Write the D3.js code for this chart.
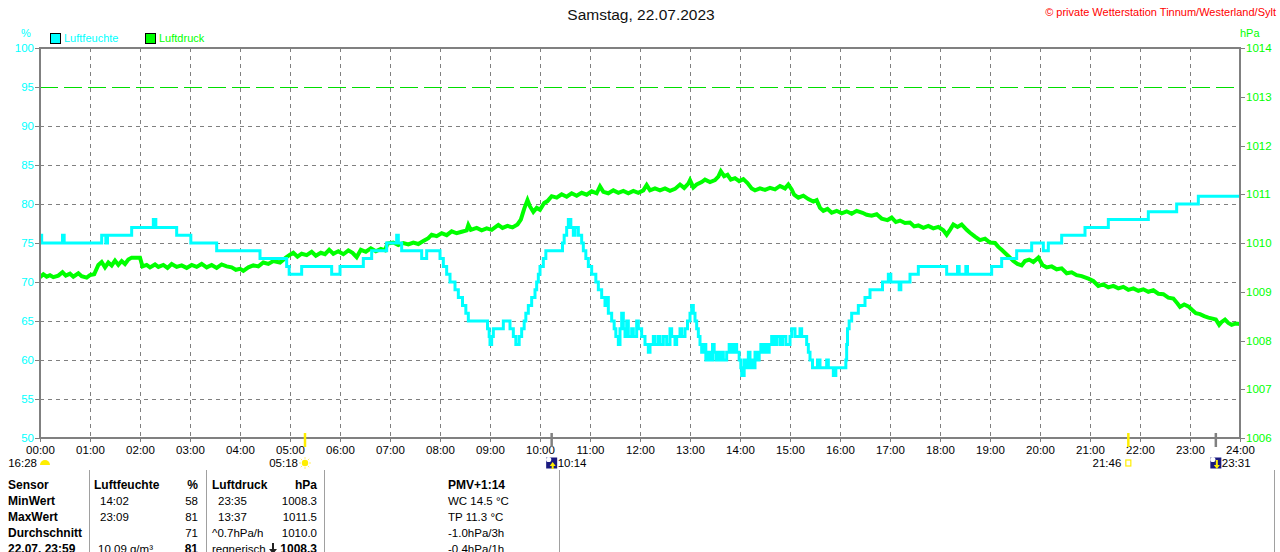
<!DOCTYPE html>
<html>
<head>
<meta charset="utf-8">
<script src="https://cdn.jsdelivr.net/npm/d3@7"></script>
<style>
  body { margin: 0; background: #fff; }
  svg { display: block; font-family: "Liberation Sans", Arial, sans-serif; }
</style>
</head>
<body>
<svg id="chart" width="1280" height="552"></svg>
<script>
// ---- data ----
const hours = d3.range(0, 25);
const humTicks = d3.range(50, 101, 5);
const presTicks = d3.range(1006, 1015);
const limitHum = 95;

// relative humidity in %, value holds until the next entry
const humidity = [
  ["00:00",76],["00:02",75],["00:27",76],["00:29",75],["01:14",76],["01:19",75],["01:21",76],
  ["01:50",77],["02:16",78],["02:19",77],["02:44",76],["03:01",75],["03:32",74],["04:24",73],
  ["04:56",72],["04:59",71],["05:14",72],["05:50",71],["06:00",72],["06:28",73],["06:38",74],
  ["06:56",75],["07:08",76],["07:10",75],["07:14",74],["07:38",73],["07:44",74],["08:00",73],
  ["08:04",72],["08:08",71],["08:12",70],["08:18",69],["08:22",68],["08:27",67],["08:31",66],
  ["08:34",65],["08:57",64],["08:59",63],["09:00",62],["09:02",63],["09:04",64],["09:16",65],
  ["09:24",64],["09:28",63],["09:31",62],["09:35",63],["09:38",64],["09:41",65],["09:43",66],
  ["09:46",67],["09:50",68],["09:54",69],["09:56",70],["09:58",71],["10:00",72],["10:04",73],
  ["10:07",74],["10:27",75],["10:29",76],["10:32",77],["10:34",78],["10:37",77],["10:40",76],
  ["10:42",77],["10:46",76],["10:50",75],["10:52",74],["10:55",73],["10:58",72],["11:02",71],
  ["11:07",70],["11:10",69],["11:14",68],["11:18",67],["11:20",68],["11:22",66],["11:26",65],
  ["11:29",64],["11:31",63],["11:34",62],["11:36",64],["11:38",66],["11:40",64],["11:42",63],
  ["11:44",65],["11:46",63],["11:50",64],["11:52",63],["11:56",65],["11:58",64],["12:02",63],
  ["12:06",62],["12:10",61],["12:12",62],["12:16",63],["12:18",62],["12:22",63],["12:24",62],
  ["12:28",63],["12:32",62],["12:36",64],["12:38",63],["12:42",62],["12:44",63],["12:48",64],
  ["12:50",63],["12:54",64],["12:57",65],["13:00",66],["13:02",67],["13:04",66],["13:06",65],
  ["13:08",64],["13:10",63],["13:12",62],["13:14",61],["13:17",62],["13:19",60],["13:22",61],
  ["13:25",60],["13:27",62],["13:29",61],["13:31",60],["13:33",61],["13:35",60],["13:38",61],
  ["13:40",60],["13:44",61],["13:47",62],["13:50",61],["13:53",62],["13:56",61],["13:59",60],
  ["14:01",59],["14:02",58],["14:05",60],["14:07",59],["14:10",61],["14:12",59],["14:14",60],
  ["14:16",59],["14:18",61],["14:20",60],["14:23",61],["14:25",62],["14:27",61],["14:30",62],
  ["14:33",61],["14:35",62],["14:38",63],["14:41",62],["14:44",63],["14:48",62],["14:51",63],
  ["14:55",62],["15:00",63],["15:02",64],["15:06",63],["15:12",64],["15:14",63],["15:20",62],
  ["15:22",61],["15:24",60],["15:27",59],["15:33",60],["15:36",59],["15:44",60],["15:46",59],
  ["15:52",58],["15:55",59],["16:07",60],["16:08",62],["16:09",64],["16:11",65],["16:14",66],
  ["16:22",67],["16:30",68],["16:36",69],["16:51",70],["16:58",71],["17:01",70],["17:11",69],
  ["17:13",70],["17:24",71],["17:34",72],["18:08",71],["18:21",72],["18:23",71],["18:31",72],
  ["18:33",71],["19:02",72],["19:14",73],["19:32",74],["19:50",75],["20:04",74],["20:10",75],
  ["20:26",76],["20:54",77],["21:22",78],["22:10",79],["22:44",80],["23:10",81],["24:00",81]
];

// air pressure in hPa
const pressure = [
  ["00:00",1009.30],["00:04",1009.36],["00:08",1009.31],["00:12",1009.34],["00:16",1009.30],
  ["00:22",1009.33],["00:27",1009.40],["00:31",1009.33],["00:36",1009.37],["00:40",1009.31],
  ["00:46",1009.38],["00:50",1009.32],["00:56",1009.29],["01:00",1009.34],["01:05",1009.36],
  ["01:10",1009.55],["01:14",1009.61],["01:18",1009.50],["01:22",1009.60],["01:26",1009.54],
  ["01:30",1009.64],["01:34",1009.55],["01:38",1009.63],["01:42",1009.57],["01:46",1009.66],
  ["01:50",1009.70],["02:00",1009.70],["02:03",1009.52],["02:08",1009.55],["02:12",1009.50],
  ["02:18",1009.56],["02:22",1009.51],["02:28",1009.55],["02:33",1009.49],["02:38",1009.57],
  ["02:44",1009.51],["02:50",1009.54],["02:56",1009.49],["03:02",1009.55],["03:08",1009.51],
  ["03:14",1009.57],["03:20",1009.50],["03:26",1009.55],["03:32",1009.49],["03:38",1009.56],
  ["03:44",1009.52],["03:50",1009.50],["03:55",1009.45],["04:00",1009.47],["04:04",1009.43],
  ["04:10",1009.50],["04:16",1009.54],["04:22",1009.52],["04:28",1009.60],["04:34",1009.57],
  ["04:40",1009.63],["04:48",1009.60],["04:55",1009.70],["05:00",1009.76],["05:04",1009.80],
  ["05:09",1009.72],["05:14",1009.78],["05:20",1009.75],["05:26",1009.82],["05:31",1009.74],
  ["05:37",1009.80],["05:42",1009.77],["05:47",1009.86],["05:52",1009.78],["05:58",1009.83],
  ["06:04",1009.77],["06:10",1009.85],["06:15",1009.80],["06:20",1009.71],["06:25",1009.86],
  ["06:31",1009.82],["06:37",1009.89],["06:43",1009.83],["06:49",1009.88],["06:54",1009.85],
  ["06:57",1009.99],["07:04",1010.01],["07:10",1009.96],["07:16",1010.00],["07:22",1009.97],
  ["07:28",1010.01],["07:34",1009.98],["07:40",1010.04],["07:46",1010.10],["07:50",1010.17],
  ["07:56",1010.14],["08:02",1010.20],["08:08",1010.16],["08:14",1010.24],["08:20",1010.20],
  ["08:26",1010.23],["08:32",1010.26],["08:34",1010.37],["08:37",1010.27],["08:44",1010.31],
  ["08:50",1010.26],["08:56",1010.30],["09:02",1010.27],["09:10",1010.37],["09:15",1010.31],
  ["09:21",1010.35],["09:27",1010.32],["09:33",1010.38],["09:37",1010.48],["09:41",1010.70],
  ["09:45",1010.88],["09:48",1010.75],["09:52",1010.64],["09:56",1010.72],["10:00",1010.68],
  ["10:05",1010.82],["10:09",1010.86],["10:14",1010.96],["10:20",1010.93],["10:26",1011.00],
  ["10:32",1010.95],["10:38",1011.02],["10:44",1010.97],["10:50",1011.03],["10:56",1010.99],
  ["11:02",1011.06],["11:08",1011.02],["11:12",1011.16],["11:16",1011.05],["11:22",1011.02],
  ["11:28",1011.08],["11:34",1011.03],["11:40",1011.07],["11:46",1011.02],["11:52",1011.07],
  ["11:58",1011.03],["12:04",1011.08],["12:08",1011.19],["12:12",1011.08],["12:18",1011.12],
  ["12:24",1011.08],["12:30",1011.12],["12:36",1011.07],["12:42",1011.11],["12:48",1011.20],
  ["12:53",1011.13],["12:58",1011.22],["13:00",1011.29],["13:04",1011.14],["13:08",1011.20],
  ["13:14",1011.25],["13:18",1011.30],["13:24",1011.25],["13:30",1011.29],["13:34",1011.36],
  ["13:37",1011.47],["13:41",1011.37],["13:45",1011.40],["13:49",1011.30],["13:54",1011.33],
  ["13:59",1011.27],["14:04",1011.31],["14:09",1011.23],["14:14",1011.12],["14:18",1011.08],
  ["14:24",1011.12],["14:30",1011.09],["14:36",1011.13],["14:42",1011.10],["14:48",1011.17],
  ["14:54",1011.12],["14:58",1011.20],["15:02",1011.10],["15:05",1010.99],["15:10",1010.93],
  ["15:16",1010.97],["15:22",1010.90],["15:28",1010.85],["15:32",1010.88],["15:36",1010.72],
  ["15:40",1010.66],["15:45",1010.70],["15:50",1010.62],["15:56",1010.66],["16:02",1010.61],
  ["16:08",1010.65],["16:14",1010.60],["16:20",1010.66],["16:27",1010.62],["16:32",1010.58],
  ["16:38",1010.56],["16:44",1010.59],["16:50",1010.50],["16:57",1010.47],["17:02",1010.52],
  ["17:07",1010.43],["17:12",1010.46],["17:18",1010.41],["17:24",1010.42],["17:29",1010.34],
  ["17:34",1010.36],["17:40",1010.31],["17:46",1010.35],["17:52",1010.30],["17:58",1010.33],
  ["18:04",1010.26],["18:08",1010.17],["18:12",1010.27],["18:16",1010.38],["18:21",1010.33],
  ["18:26",1010.38],["18:32",1010.27],["18:36",1010.21],["18:42",1010.13],["18:48",1010.06],
  ["18:54",1010.09],["19:00",1010.01],["19:06",1010.00],["19:10",1009.92],["19:14",1009.86],
  ["19:19",1009.78],["19:24",1009.70],["19:28",1009.63],["19:33",1009.57],["19:38",1009.54],
  ["19:42",1009.63],["19:47",1009.66],["19:52",1009.61],["19:58",1009.70],["20:03",1009.55],
  ["20:08",1009.50],["20:14",1009.52],["20:20",1009.46],["20:26",1009.48],["20:32",1009.38],
  ["20:38",1009.40],["20:44",1009.34],["20:50",1009.32],["20:58",1009.27],["21:04",1009.22],
  ["21:10",1009.12],["21:16",1009.15],["21:22",1009.09],["21:28",1009.12],["21:34",1009.07],
  ["21:40",1009.10],["21:46",1009.04],["21:52",1009.07],["21:58",1009.02],["22:04",1009.05],
  ["22:10",1009.00],["22:16",1009.03],["22:22",1008.96],["22:28",1008.95],["22:34",1008.88],
  ["22:40",1008.86],["22:45",1008.76],["22:48",1008.69],["22:53",1008.74],["22:58",1008.70],
  ["23:03",1008.62],["23:07",1008.56],["23:12",1008.54],["23:17",1008.50],["23:22",1008.47],
  ["23:27",1008.45],["23:31",1008.43],["23:35",1008.32],["23:38",1008.38],["23:42",1008.43],
  ["23:46",1008.36],["23:50",1008.32],["23:55",1008.35],["24:00",1008.34]
];

// sun and moon events under the time axis
const events = [
  {time: "05:18", kind: "sunrise"},
  {time: "10:14", kind: "moonrise"},
  {time: "21:46", kind: "sunset"},
  {time: "23:31", kind: "moonset"}
];
const previousEvent = "16:28";

// summary table
const rowLabels = ["Sensor", "MinWert", "MaxWert", "Durchschnitt", "22.07.  23:59"];
const humColumn = [["Luftfeuchte", "%"], ["14:02", "58"], ["23:09", "81"], ["", "71"], ["10.09 g/m³", "81"]];
const presColumn = [["Luftdruck", "hPa"], ["23:35", "1008.3"], ["13:37", "1011.5"], ["^0.7hPa/h", "1010.0"], ["regnerisch", "1008.3"]];
const extraColumn = ["PMV+1:14", "WC 14.5 °C", "TP 11.3 °C", "-1.0hPa/3h", "-0.4hPa/1h"];

const title = "Samstag, 22.07.2023";
const credit = "© private Wetterstation Tinnum/Westerland/Sylt";

// ---- drawing ----
const parseTime = s => { const [h, m] = s.split(":").map(Number); return h + m / 60; };

const margin = {top: 48, right: 40, bottom: 114, left: 40};
const W = 1280, H = 552;
const width = W - margin.left - margin.right;
const height = H - margin.top - margin.bottom;

const cyan = "#00ffff", green = "#00ff00", grid = "#808080";

const svg = d3.select("#chart");
const chart = svg.append("g").attr("transform", `translate(${margin.left},${margin.top})`);

const x = d3.scaleLinear().domain([0, 24]).range([0, width]);
const yHum = d3.scaleLinear().domain([50, 100]).range([height, 0]);
const yPres = d3.scaleLinear().domain([1006, 1014]).range([height, 0]);

// grid
chart.append("g").attr("shape-rendering", "crispEdges").selectAll("line")
  .data(hours.filter(h => h > 0 && h < 24))
  .join("line")
  .attr("x1", d => x(d)).attr("x2", d => x(d))
  .attr("y1", 0).attr("y2", height)
  .attr("stroke", grid).attr("stroke-dasharray", "4,4");

chart.append("g").attr("shape-rendering", "crispEdges").selectAll("line")
  .data(humTicks.filter(v => v > 50 && v < 100 && v !== limitHum))
  .join("line")
  .attr("x1", 0).attr("x2", width)
  .attr("y1", d => yHum(d)).attr("y2", d => yHum(d))
  .attr("stroke", grid)
  .attr("stroke-dasharray", "4,4");

// 95 % limit line, long green dashes
chart.append("line")
  .attr("x1", 0).attr("x2", width)
  .attr("y1", yHum(limitHum) + 0.5).attr("y2", yHum(limitHum) + 0.5)
  .attr("stroke", "#00dd00")
  .attr("stroke-width", 1)
  .attr("stroke-dasharray", "18,6");

// series
chart.append("clipPath").attr("id", "plot")
  .append("rect").attr("width", width).attr("height", height);

const presLine = d3.line()
  .x(d => x(parseTime(d[0])))
  .y(d => yPres(d[1]));

const humLine = d3.line()
  .x(d => x(parseTime(d[0])))
  .y(d => yHum(d[1]))
  .curve(d3.curveStepAfter);

chart.append("path")
  .datum(pressure)
  .attr("clip-path", "url(#plot)")
  .attr("fill", "none")
  .attr("stroke", green)
  .attr("stroke-width", 4)
  .attr("d", presLine);

chart.append("path")
  .datum(humidity)
  .attr("clip-path", "url(#plot)")
  .attr("fill", "none")
  .attr("stroke", cyan)
  .attr("stroke-width", 3)
  .attr("d", humLine);

// frame
chart.append("rect")
  .attr("width", width).attr("height", height)
  .attr("shape-rendering", "crispEdges")
  .attr("fill", "none").attr("stroke", grid).attr("stroke-width", 2);

// axes
const styleAxis = (g, color) => {
  g.select(".domain").remove();
  g.selectAll(".tick line").attr("stroke", grid).attr("shape-rendering", "crispEdges");
  g.selectAll(".tick text").attr("fill", color).style("font-size", "11.5px")
    .style("font-family", "'Liberation Sans', Arial, sans-serif");
};

chart.append("g")
  .attr("transform", `translate(0,${height})`)
  .call(d3.axisBottom(x).tickValues(hours).tickSize(4).tickPadding(4)
    .tickFormat(h => d3.format("02")(h) + ":00"))
  .call(g => styleAxis(g, "#000"));

chart.append("g")
  .call(d3.axisLeft(yHum).tickValues(humTicks).tickSize(5).tickPadding(1))
  .call(g => styleAxis(g, cyan));

chart.append("g")
  .attr("transform", `translate(${width},0)`)
  .call(d3.axisRight(yPres).tickValues(presTicks).tickSize(5).tickPadding(1)
    .tickFormat(d3.format("d")))
  .call(g => styleAxis(g, green));

// units, legend, title
svg.append("text").attr("x", 26).attr("y", 37).attr("text-anchor", "middle")
  .attr("fill", cyan).style("font-size", "11px").text("%");
svg.append("text").attr("x", 1240).attr("y", 37)
  .attr("fill", green).style("font-size", "11px").text("hPa");

const legend = svg.append("g").selectAll("g")
  .data([["Luftfeuchte", cyan], ["Luftdruck", green]])
  .join("g")
  .attr("transform", (d, i) => `translate(${50 + i * 95},33)`);
legend.append("rect").attr("width", 10).attr("height", 10)
  .attr("fill", d => d[1]).attr("stroke", "#000").attr("shape-rendering", "crispEdges");
legend.append("text").attr("x", 14).attr("y", 9)
  .attr("fill", d => d[1]).style("font-size", "11px").text(d => d[0]);

svg.append("text").attr("x", 641).attr("y", 20).attr("text-anchor", "middle")
  .attr("fill", "#111").style("font-size", "15.5px").text(title);
svg.append("text").attr("x", 1276).attr("y", 16).attr("text-anchor", "end")
  .attr("fill", "#ff0000").style("font-size", "11px").text(credit);

// sun / moon markers
const marks = svg.append("g").attr("transform", `translate(${margin.left},0)`);
const isSun = k => k === "sunrise" || k === "sunset";

marks.selectAll("line")
  .data(events)
  .join("line")
  .attr("x1", d => x(parseTime(d.time))).attr("x2", d => x(parseTime(d.time)))
  .attr("y1", 433).attr("y2", 447)
  .attr("stroke", d => isSun(d.kind) ? "#ffee00" : grid)
  .attr("stroke-width", 2.5);

const drawIcon = (g, kind) => {
  if (kind === "sunrise") {
    g.append("circle").attr("r", 3.2).attr("fill", "#ffee00");
    g.selectAll("line.ray").data(d3.range(8)).join("line")
      .attr("x1", a => Math.cos(a * Math.PI / 4) * 4)
      .attr("y1", a => Math.sin(a * Math.PI / 4) * 4)
      .attr("x2", a => Math.cos(a * Math.PI / 4) * 6)
      .attr("y2", a => Math.sin(a * Math.PI / 4) * 6)
      .attr("stroke", "#ffee66").attr("stroke-width", 1);
  } else if (kind === "sunset") {
    g.append("rect").attr("x", -2.5).attr("y", -3).attr("width", 5).attr("height", 6)
      .attr("fill", "none").attr("stroke", "#ffee00").attr("stroke-width", 1.2);
  } else if (kind === "previous") {
    g.append("path").attr("d", "M-5,2 A5,5 0 0 1 5,2 Z").attr("fill", "#ffee00");
  } else {
    g.append("rect").attr("x", -5.5).attr("y", -5.5).attr("width", 11).attr("height", 11)
      .attr("fill", "#1a1a80");
    g.append("circle").attr("cx", -3).attr("cy", -3.5).attr("r", 2.6).attr("fill", "#fff");
    const arrow = kind === "moonrise"
      ? "M1,-1 L4,3 L2,3 L2,6 L0,6 L0,3 L-2,3 Z"
      : "M1,6 L4,2 L2,2 L2,-3 L0,-3 L0,2 L-2,2 Z";
    g.append("path").attr("d", arrow).attr("fill", "#ffee00");
  }
};

events.forEach(ev => {
  const cx = x(parseTime(ev.time));
  const g = marks.append("g").attr("transform", `translate(${cx},463)`);
  drawIcon(g, ev.kind);
  marks.append("text")
    .attr("x", isSun(ev.kind) ? cx - 7 : cx + 6)
    .attr("y", 467)
    .attr("text-anchor", isSun(ev.kind) ? "end" : "start")
    .attr("fill", "#000").style("font-size", "11.5px")
    .text(ev.time);
});

{
  const g = marks.append("g").attr("transform", `translate(${x(0) + 5},463)`);
  drawIcon(g, "previous");
  marks.append("text").attr("x", x(0) - 3).attr("y", 467).attr("text-anchor", "end")
    .attr("fill", "#000").style("font-size", "11.5px").text(previousEvent);
}

// summary table (last row is cut by the image edge, as in the original)
const table = svg.append("g");
const rowY = i => 489 + i * 16;
const lastRow = rowLabels.length - 1;

table.selectAll("line")
  .data([89, 206, 324, 559, 1274])
  .join("line")
  .attr("x1", d => d).attr("x2", d => d)
  .attr("y1", 470).attr("y2", H)
  .attr("stroke", "#a0a0a0")
  .attr("shape-rendering", "crispEdges");

const cell = (txt, xPos, i, anchor, bold) => table.append("text")
  .attr("x", xPos).attr("y", rowY(i))
  .attr("text-anchor", anchor)
  .attr("fill", "#000")
  .style("font-size", bold ? "12px" : "11.5px")
  .style("font-weight", bold ? "bold" : "normal")
  .text(txt);

rowLabels.forEach((t, i) => cell(t, 8, i, "start", true));
humColumn.forEach((d, i) => {
  cell(d[0], i === 0 ? 94 : (i < 3 ? 100 : 98), i, "start", i === 0);
  cell(d[1], 198, i, "end", i === 0 || i === lastRow);
});
presColumn.forEach((d, i) => {
  cell(d[0], i === 1 || i === 2 ? 218 : 212, i, "start", i === 0);
  cell(d[1], 317, i, "end", i === 0 || i === lastRow);
});
// falling-trend arrow before the current pressure
table.append("path")
  .attr("transform", `translate(273,${rowY(lastRow) - 5})`)
  .attr("d", "M-1,-5 L1,-5 L1,1 L4,1 L0,6 L-4,1 L-1,1 Z")
  .attr("fill", "#222");
extraColumn.forEach((t, i) => cell(t, 448, i, "start", i === 0));
</script>
</body>
</html>
